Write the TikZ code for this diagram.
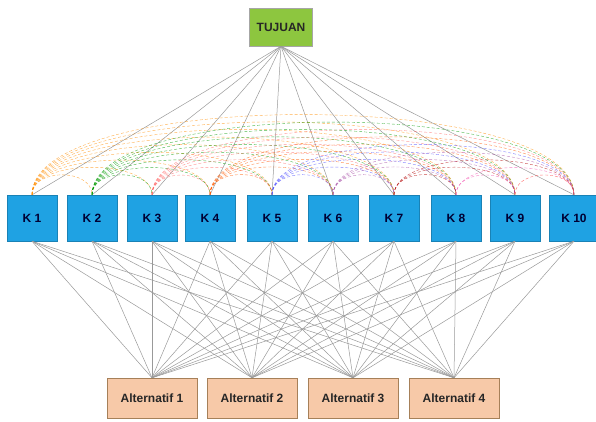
\documentclass[tikz,border=0pt]{standalone}
\usepackage{fontspec}
\setmainfont{Liberation Sans}
\usetikzlibrary{calc}
\definecolor{kblue}{HTML}{1FA2E3}
\definecolor{goalgreen}{HTML}{8DC63F}
\definecolor{altpeach}{HTML}{F7C9A8}
\tikzset{
  boxfont/.style={font=\fontsize{12}{14}\selectfont\bfseries},
  goalbox/.style={boxfont, draw=gray!70, fill=goalgreen, text=black!85, minimum width=63pt, minimum height=38pt, inner sep=0pt},
  kbox/.style={boxfont, draw=kblue!80!black, fill=kblue, text=blue!20!black, minimum width=50pt, minimum height=46pt, inner sep=0pt},
  altbox/.style={boxfont, draw=brown!60!gray, fill=altpeach, text=black!85, minimum width=90pt, minimum height=40pt, inner sep=0pt},
  link/.style={draw=gray!80, line width=0.5pt},
  arcline/.style={dashed, dash pattern=on 3pt off 2pt, line width=0.4pt, draw opacity=0.7},
  arc1/.style={arcline, draw=orange!90!yellow},
  arc2/.style={arcline, draw=green!60!black},
  arc3/.style={arcline, draw=red!60},
  arc4/.style={arcline, draw=orange!70!red},
  arc5/.style={arcline, draw=blue!70},
  arc6/.style={arcline, draw=violet!70},
  arc7/.style={arcline, draw=red!70!black},
  arc8/.style={arcline, draw=magenta!70},
  arc9/.style={arcline, draw=red!80},
}
\begin{document}
\begin{tikzpicture}[x=1pt,y=-1pt]
    \useasboundingbox (0,0) rectangle (596,421);
    % goal, criteria and alternatives
    \node[goalbox] (tujuan) at (281,27) {TUJUAN};
    \foreach \i/\x in {1/32,2/92,3/152,4/210,5/272,6/333,7/394,8/456,9/515,10/574}
        \node[kbox] (k\i) at (\x,218) {K \i};
    \foreach \j/\x in {1/152,2/252,3/353,4/454}
        \node[altbox] (a\j) at (\x,398) {Alternatif \j};
    % links
    \foreach \i in {1,...,10} {
        \draw[link] (k\i.north) -- (tujuan.south);
        \foreach \j in {1,...,4}
            \draw[link] (k\i.south) -- (a\j.north);
    }
    % pairwise arcs between criteria
    \foreach \i in {1,...,9} {
        \pgfmathtruncatemacro\nxt{\i+1}
        \foreach \j in {\nxt,...,10}
            \draw[arc\i] let \p1=(k\i.north), \p2=(k\j.north), \n1={(12.5+0.125*(\x2-\x1))*4/3} in
                (k\i.north) .. controls ([yshift=\n1]k\i.north) and ([yshift=\n1]k\j.north) .. (k\j.north);
    }
\end{tikzpicture}
\end{document}
